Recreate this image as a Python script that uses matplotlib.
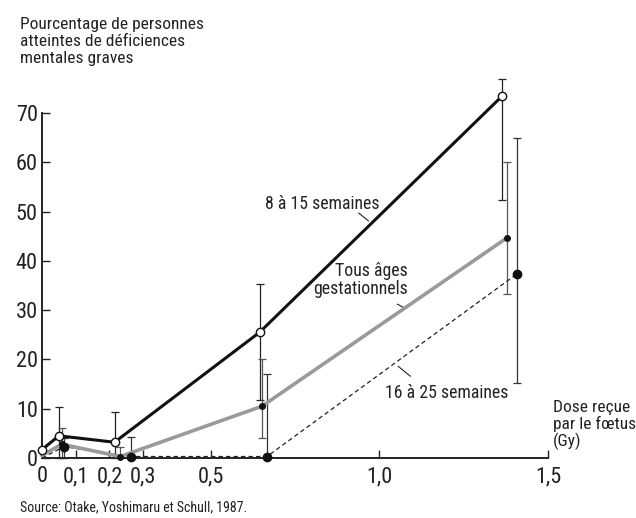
import numpy as np
import matplotlib
matplotlib.use('Agg')
import matplotlib.pyplot as plt
from matplotlib import font_manager

# ---------------------------------------------------------------------------
# Donnees
# ---------------------------------------------------------------------------
dose_8_15 = [0, 0.05, 0.215, 0.645, 1.365]
pct_8_15 = [1.7, 4.5, 3.2, 25.5, 73.5]
bas_8_15 = [np.nan, 0, 0, 11.7, 52.4]
haut_8_15 = [np.nan, 10.4, 9.4, 35.4, 77.0]

dose_tous = [0, 0.058, 0.232, 0.652, 1.379]
pct_tous = [0.5, 2.8, 0.3, 10.5, 44.7]
bas_tous = [np.nan, 0, 0, 4.0, 33.2]
haut_tous = [np.nan, 6.0, 2.2, 20.0, 60.0]

dose_16_25 = [0, 0.065, 0.264, 0.667, 1.409]
pct_16_25 = [0, 2.3, 0.3, 0.3, 37.4]
bas_16_25 = [np.nan, 0, 0, 0, 15.3]
haut_16_25 = [np.nan, 4.0, 4.3, 17.0, 64.9]

x_ticks = [0, 0.1, 0.2, 0.3, 0.5, 1.0, 1.5]
x_labels = ['0', '0,1', '0,2', '0,3', '0,5', '1,0', '1,5']
y_ticks = [0, 10, 20, 30, 40, 50, 60, 70]

# police etroite si disponible
noms = {f.name for f in font_manager.fontManager.ttflist}
etroites = [n for n in ['Liberation Sans Narrow', 'Roboto Condensed', 'Open Sans Condensed',
                        'DejaVu Sans Condensed'] if n in noms]
plt.rcParams['font.family'] = etroites + ['DejaVu Sans']
plt.rcParams['font.stretch'] = 'condensed'
W, H = 636, 518


def fx(px):
    return px / W


def fy(py):
    return 1 - py / H


fig = plt.figure(figsize=(W / 100, H / 100), dpi=100)
ax = fig.add_axes([fx(42), fy(458), fx(548) - fx(42), fy(113) - fy(458)])
ax.set_xlim(0, 1.5)
ax.set_ylim(0, 70)


def barres(x, y, bas, haut, couleur):
    x = np.array(x)
    y = np.array(y)
    bas = np.array(bas)
    haut = np.array(haut)
    ok = ~np.isnan(bas)
    yerr = [y[ok] - bas[ok], haut[ok] - y[ok]]
    ax.errorbar(x[ok], y[ok], yerr=yerr, fmt='none', ecolor=couleur,
                elinewidth=0.9, capsize=3, capthick=0.9, clip_on=False, zorder=2)


barres(dose_8_15, pct_8_15, bas_8_15, haut_8_15, '#222222')
barres(dose_tous, pct_tous, bas_tous, haut_tous, '#555555')
barres(dose_16_25, pct_16_25, bas_16_25, haut_16_25, '#333333')

# Courbes
ax.plot(dose_16_25, pct_16_25, color='#222222', lw=0.9, ls=(0, (3.5, 2.5)),
        clip_on=False, zorder=3)
ax.plot(dose_16_25[1:], pct_16_25[1:], 'o', color='#111111', ms=6,
        clip_on=False, zorder=6)
ax.plot(dose_tous, pct_tous, color='#9a9a9a', lw=2.6, clip_on=False, zorder=4)
ax.plot(dose_tous[1:], pct_tous[1:], 'o', color='#111111', ms=4,
        clip_on=False, zorder=6)
ax.plot(dose_8_15, pct_8_15, color='#111111', lw=2.2, clip_on=False, zorder=5)
ax.plot(dose_8_15, pct_8_15, 'o', mfc='white', mec='#111111', mew=1.0, ms=6,
        clip_on=False, zorder=7)

# Axes
for s in ['top', 'right']:
    ax.spines[s].set_visible(False)
for s in ['left', 'bottom']:
    ax.spines[s].set_linewidth(1.4)
    ax.spines[s].set_color('#222222')
ax.set_xticks(x_ticks)
ax.set_xticklabels(x_labels)
ax.set_yticks(y_ticks)
ax.tick_params(direction='in', length=6, width=1.0, color='#222222',
               labelsize=16, labelcolor='#222222')
ax.tick_params(axis='x', pad=6)
ax.tick_params(axis='y', pad=3)

# Textes
fig.text(fx(20), fy(17), 'Pourcentage de personnes\natteintes de déficiences\nmentales graves',
         fontsize=12.5, color='#222222', va='top', ha='left', linespacing=1.15)
fig.text(fx(265), fy(204), '8 à 15 semaines', fontsize=12.8, color='#222222',
         va='center', ha='left')
ax.plot([0.939, 0.968], [49.7, 48.1], color='#222222', lw=0.8, clip_on=False)
fig.text(fx(408), fy(280), 'Tous âges\ngestationnels', fontsize=12.8, color='#222222',
         va='center', ha='right', linespacing=1.05)
ax.plot([1.054, 1.070], [31.2, 30.6], color='#222222', lw=0.8, clip_on=False)
fig.text(fx(385), fy(393), '16 à 25 semaines', fontsize=12.8, color='#222222',
         va='center', ha='left')
ax.plot([1.056, 1.092], [18.6, 16.6], color='#222222', lw=0.8, clip_on=False)
fig.text(fx(553), fy(425), 'Dose reçue\npar le fœtus\n(Gy)', fontsize=12.5,
         color='#222222', va='center', ha='left', linespacing=1.05)
fig.text(fx(20), fy(507), 'Source: Otake, Yoshimaru et Schull, 1987.', fontsize=10,
         color='#222222', va='center', ha='left')

fig.savefig('out.png', dpi=100)
